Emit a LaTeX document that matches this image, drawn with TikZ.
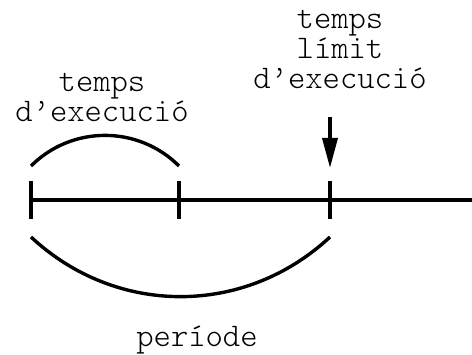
\documentclass[tikz,border=0pt]{standalone}
\usepackage{fontspec}
\setmonofont{Latin Modern Mono Light}
\usetikzlibrary{arrows.meta,calc}
\tikzset{
  axisline/.style={line width=3.6pt},
  tick/.style={line width=3.6pt},
  span/.style={line width=3.4pt},
  arr/.style={-{Triangle[length=30pt,width=15pt]},line width=3.6pt},
  lbl/.style={align=center,inner sep=0pt,font=\fontsize{33}{30}\selectfont\ttfamily}
}

\begin{document}
\begin{tikzpicture}[x=1pt,y=-1pt]
\useasboundingbox (0,0) rectangle (472,355);
% time axis and ticks
\coordinate (t0) at (31,200);
\coordinate (t1) at (179,200);
\coordinate (t2) at (330,200);
\coordinate (tend) at (472,200);
\draw[axisline] (t0) -- (tend);
\foreach \tk in {t0,t1,t2} \draw[tick] ($(\tk)+(0,-19)$) -- ($(\tk)+(0,19)$);
% spans
\coordinate (ea) at (31,166);
\coordinate (eb) at (179,166);
\coordinate (pa) at (31,237);
\coordinate (pb) at (330,237);
\draw[span] (ea) to[bend left=45] (eb);
\draw[span] (pa) to[bend right=43] (pb);
% labels
\node[lbl] (exec) at (102,97) {temps\\d’execució};
\node[lbl] (lim) at (340,49) {temps\\límit\\d’execució};
\node[lbl] (per) at (197,340) {període};
\coordinate (arrtop) at (330,117);
\coordinate (arrtip) at (330,168);
\draw[arr] (arrtop) -- (arrtip);
\end{tikzpicture}
\end{document}
